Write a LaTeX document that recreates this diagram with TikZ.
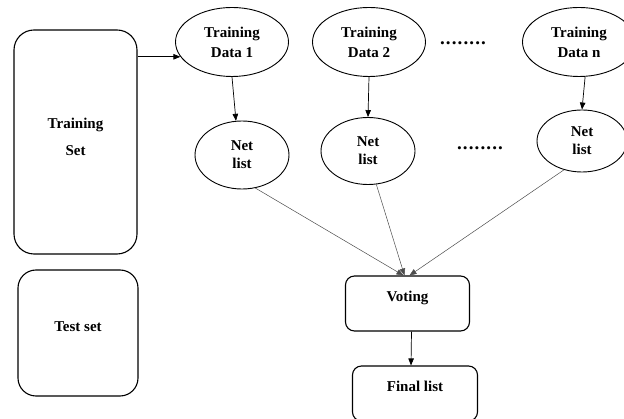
\documentclass[tikz,border=0pt]{standalone}
\usepackage{fontspec}
\setmainfont{Liberation Serif}
\usetikzlibrary{shapes.geometric,arrows.meta}

\begin{document}
\begin{tikzpicture}[x=1pt,y=-1pt,
  every node/.style={font=\fontsize{15}{20}\selectfont\bfseries, align=center},
  box/.style={draw, line width=1.1pt, rounded corners=#1, inner sep=0pt},
  box/.default=9pt,
  lift/.style={text height=10pt, text depth=13.5pt},
  oval/.style={draw, ellipse, line width=0.9pt, inner sep=0pt, minimum width=113pt, minimum height=69pt},
  gap/.style={font=\fontsize{19}{20}\selectfont\bfseries\addfontfeatures{LetterSpace=6}},
  arr/.style={-{Triangle[length=7pt,width=5.5pt]}, line width=0.7pt},
  conn/.style={arr, draw=black!70, line width=0.5pt}]
  \useasboundingbox (0,0) rectangle (624,419);
  % left boxes
  \node[box=20pt, text depth=11pt, minimum width=123pt, minimum height=224pt] (trainset) at (75.5,142) {Training\\[7pt]Set};
  \node[box=18pt, lift, minimum width=120pt, minimum height=126pt] (testset) at (78,333) {Test set};
  % training data and net lists
  \foreach \n/\x in {1/232,2/369,n/579} {
    \node[oval] (td\n) at (\x,42) {Training\\Data \n};
  }
  \node[oval, minimum width=94pt, minimum height=68pt] (nl1) at (242,155) {Net\\[-2pt]list};
  \node[oval, minimum width=94pt, minimum height=67pt] (nl2) at (368,151) {Net\\[-2pt]list};
  \node[oval, minimum width=90pt, minimum height=62pt] (nln) at (582,141) {Net\\[-2pt]list};
  \node[gap] (dots1) at (463,43) {........};
  \node[gap] (dots2) at (480,148) {........};
  % voting
  \node[box, lift, minimum width=124pt, minimum height=55pt] (voting) at (407.5,303.5) {Voting};
  \node[box, lift, minimum width=125pt, minimum height=55pt] (final) at (415,393.5) {Final list};
  % connectors
  \draw[arr] (trainset.east |- td1.196) -- (td1.196);
  \draw[arr] (td1.south) -- (nl1.100);
  \draw[arr] (td2.south) -- (nl2.north);
  \draw[arr] (tdn.-80) -- (nln.north);
  \draw[conn] (nl1.-68) -- ([xshift=-4pt]voting.north);
  \draw[conn] (nl2.-76) -- ([xshift=-3pt]voting.north);
  \draw[conn] (nln.-122) -- ([xshift=2pt]voting.north);
  \draw[arr] ([xshift=4pt]voting.south) -- ([xshift=-4pt]final.north);
\end{tikzpicture}
\end{document}
